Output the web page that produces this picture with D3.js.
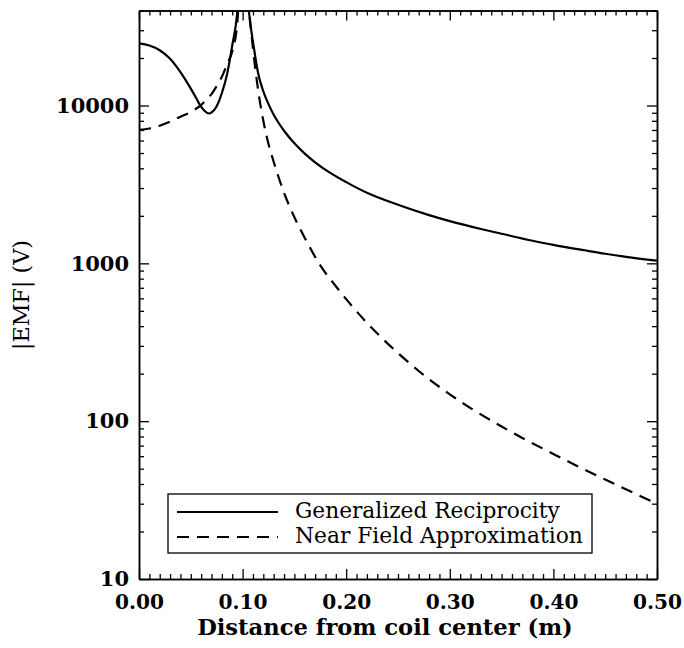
<!DOCTYPE html>
<html>
<head>
<meta charset="utf-8">
<script src="https://cdn.jsdelivr.net/npm/d3@7"></script>
<style>
  body { margin: 0; background: #fff; }
  svg { display: block; }
</style>
</head>
<body>
<svg id="chart"></svg>
<script>
// Distance from coil center (m)
const reciprocityX = [0.000, 0.010, 0.020, 0.030, 0.040, 0.050, 0.055, 0.060, 0.065, 0.068, 0.071, 0.075,
  0.080, 0.085, 0.090, 0.095, 0.100, 0.106, 0.111, 0.115, 0.120, 0.125, 0.130, 0.135, 0.140, 0.150,
  0.160, 0.170, 0.185, 0.200, 0.220, 0.250, 0.280, 0.300, 0.330, 0.350, 0.380, 0.400, 0.430, 0.450,
  0.470, 0.500];
// |EMF| (V), generalized reciprocity
const reciprocityEmf = [24800, 24000, 22400, 19800, 16300, 12800, 11200, 9800, 9050, 8900, 9150, 9900,
  12000, 15800, 24000, 40000, 150000, 40000, 23000, 16000, 12300, 10200, 8750, 7720, 6920, 5760,
  4960, 4370, 3730, 3270, 2800, 2350, 2020, 1850, 1650, 1540, 1390, 1310, 1210, 1150,
  1100, 1040];

const nearFieldX = [0.000, 0.010, 0.020, 0.030, 0.040, 0.050, 0.060, 0.065, 0.070, 0.075, 0.080, 0.085,
  0.090, 0.095, 0.100, 0.105, 0.110, 0.115, 0.120, 0.125, 0.130, 0.140, 0.150, 0.160, 0.175, 0.190,
  0.200, 0.220, 0.250, 0.270, 0.300, 0.320, 0.350, 0.370, 0.400, 0.420, 0.450, 0.470, 0.500];
// |EMF| (V), near field approximation
const nearFieldEmf = [7000, 7150, 7450, 7900, 8500, 9100, 10100, 10900, 11800, 13300, 15200, 18300,
  22000, 34000, 150000, 50000, 23000, 12500, 8000, 5700, 4400, 2800, 1960, 1450, 970, 716,
  593, 420, 270, 208, 148, 121, 92.5, 78.3, 62, 53.2, 42.7, 37, 30];

const xTicks = [0.0, 0.1, 0.2, 0.3, 0.4, 0.5];
const yTicks = [10, 100, 1000, 10000];
const legendLabels = ['Generalized Reciprocity', 'Near Field Approximation'];

const config = {
  containerWidth: 684,
  containerHeight: 648,
  margin: { top: 10.5, right: 27, bottom: 69, left: 139 },
};

const width = config.containerWidth - config.margin.left - config.margin.right;
const height = config.containerHeight - config.margin.top - config.margin.bottom;

const svg = d3.select('#chart')
  .attr('width', config.containerWidth)
  .attr('height', config.containerHeight);

const chart = svg.append('g')
  .attr('transform', `translate(${config.margin.left},${config.margin.top})`);

const xScale = d3.scaleLinear().domain([0, 0.5]).range([0, width]);
const yScale = d3.scaleLog().domain([10, 40000]).range([height, 0]);

// minor ticks
const xMinor = d3.range(0, 51).map((i) => i / 100).filter((v) => Math.round(v * 100) % 10 !== 0);
const yMinor = [];
yTicks.forEach((d) => {
  d3.range(2, 10).forEach((m) => { if (d * m <= 40000) yMinor.push(d * m); });
});

// scale a text's font so that its drawn width matches the reference
function fitWidth(sel, target) {
  const w = sel.node().getComputedTextLength();
  const fs = parseFloat(sel.attr('font-size'));
  return fs * target / w;
}

function styleAxis(g) {
  g.select('.domain').attr('stroke', '#000').attr('stroke-width', 1.5);
  g.selectAll('.tick line').attr('stroke', '#000').attr('stroke-width', 1.3);
}

function styleLabels(g) {
  g.attr('font-family', null).attr('font-size', null);
  g.selectAll('text')
    .attr('font-family', 'DejaVu Serif, serif')
    .attr('font-weight', 'bold')
    .attr('font-size', 21)
    .attr('fill', '#000');
}

// bottom axis
chart.append('g')
  .attr('transform', `translate(0,${height})`)
  .call(d3.axisBottom(xScale).tickValues(xMinor).tickSize(-5).tickSizeOuter(0).tickFormat(''))
  .call(styleAxis);
const xAxisG = chart.append('g')
  .attr('transform', `translate(0,${height})`)
  .call(d3.axisBottom(xScale).tickValues(xTicks).tickSize(-10).tickSizeOuter(0).tickFormat(d3.format('.2f')))
  .call(styleAxis)
  .call(styleLabels);
const xFs = fitWidth(xAxisG.selectAll('text').filter((d) => d === 0.1), 49);
xAxisG.selectAll('text').attr('font-size', xFs).attr('dy', null).attr('y', 30);

// top axis
chart.append('g')
  .call(d3.axisTop(xScale).tickValues(xMinor).tickSize(-5).tickSizeOuter(0).tickFormat(''))
  .call(styleAxis);
chart.append('g')
  .call(d3.axisTop(xScale).tickValues(xTicks).tickSize(-10).tickSizeOuter(0).tickFormat(''))
  .call(styleAxis);

// left axis
chart.append('g')
  .call(d3.axisLeft(yScale).tickValues(yMinor).tickSize(-5).tickSizeOuter(0).tickFormat(''))
  .call(styleAxis);
const yAxisG = chart.append('g')
  .call(d3.axisLeft(yScale).tickValues(yTicks).tickSize(-10).tickSizeOuter(0).tickPadding(10).tickFormat(d3.format('d')))
  .call(styleAxis)
  .call(styleLabels);
const yFs = fitWidth(yAxisG.selectAll('text').filter((d) => d === 10000), 73);
yAxisG.selectAll('text').attr('font-size', yFs);

// right axis
chart.append('g')
  .attr('transform', `translate(${width},0)`)
  .call(d3.axisRight(yScale).tickValues(yMinor).tickSize(-5).tickSizeOuter(0).tickFormat(''))
  .call(styleAxis);
chart.append('g')
  .attr('transform', `translate(${width},0)`)
  .call(d3.axisRight(yScale).tickValues(yTicks).tickSize(-10).tickSizeOuter(0).tickFormat(''))
  .call(styleAxis);

// axis titles
const xTitle = svg.append('text')
  .attr('x', 385)
  .attr('y', 635)
  .attr('text-anchor', 'middle')
  .attr('font-family', 'DejaVu Serif, serif')
  .attr('font-weight', 'bold')
  .attr('font-size', 21)
  .text('Distance from coil center (m)');
xTitle.attr('font-size', fitWidth(xTitle, 376));

const yTitle = svg.append('text')
  .attr('transform', 'translate(29,295) rotate(-90)')
  .attr('text-anchor', 'middle')
  .attr('font-family', 'DejaVu Serif, serif')
  .attr('font-size', 19)
  .text('|EMF| (V)');
yTitle.attr('font-size', fitWidth(yTitle, 110));

// curves
svg.append('defs').append('clipPath').attr('id', 'plot-clip')
  .append('rect').attr('width', width).attr('height', height);

const line = d3.line()
  .x((d) => xScale(d[0]))
  .y((d) => yScale(d[1]))
  .curve(d3.curveMonotoneX);

const marks = chart.append('g').attr('clip-path', 'url(#plot-clip)');

marks.append('path')
  .datum(reciprocityX.map((x, i) => [x, reciprocityEmf[i]]))
  .attr('fill', 'none')
  .attr('stroke', '#000')
  .attr('stroke-width', 2.2)
  .attr('d', line);

marks.append('path')
  .datum(nearFieldX.map((x, i) => [x, nearFieldEmf[i]]))
  .attr('fill', 'none')
  .attr('stroke', '#000')
  .attr('stroke-width', 2.2)
  .attr('stroke-dasharray', '12,8')
  .attr('d', line);

// legend
const legend = svg.append('g').attr('transform', 'translate(168,494)');
legend.append('rect')
  .attr('width', 424).attr('height', 59)
  .attr('fill', '#fff').attr('stroke', '#000').attr('stroke-width', 1.3);

legendLabels.forEach((label, i) => {
  const row = legend.append('g').attr('transform', `translate(0,${18 + i * 25})`);
  row.append('line')
    .attr('x1', 9).attr('x2', 110)
    .attr('stroke', '#000').attr('stroke-width', 2.2)
    .attr('stroke-dasharray', i === 1 ? '12,8' : null);
  const t = row.append('text')
    .attr('x', 127).attr('y', 6)
    .attr('font-family', 'DejaVu Serif, serif')
    .attr('font-size', 18)
    .text(label);
  t.attr('font-size', fitWidth(t, i === 0 ? 265 : 288));
});
</script>
</body>
</html>
